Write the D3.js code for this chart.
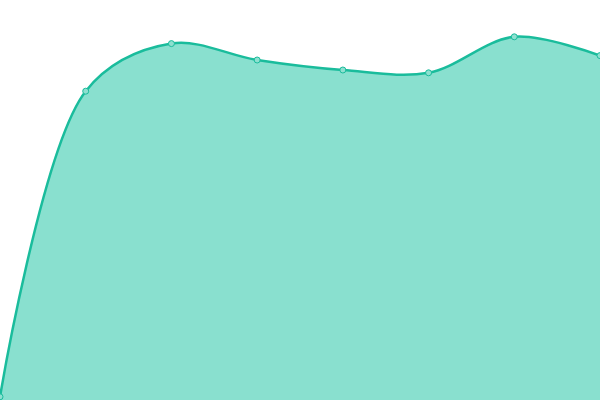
<!DOCTYPE html>
<html>
<head>
<meta charset="utf-8">
<script src="https://cdn.jsdelivr.net/npm/d3@7"></script>
<style>
  body { margin: 0; background: #fff; }
  svg { display: block; }
</style>
</head>
<body>
<div class="chart"></div>
<script>
var width = 600,
    height = 400;

var labels = ["1", "2", "3", "4", "5", "6", "7", "8"];
var values = [0.8, 77.2, 89.1, 85.0, 82.5, 81.8, 90.8, 86.1];

var svg = d3.select("div.chart").append("svg")
    .attr("width", width)
    .attr("height", height);

var x = d3.scalePoint()
    .domain(labels)
    .range([0, width]);

var y = d3.scaleLinear()
    .domain([0, 100])
    .range([height, 0]);

var curve = d3.curveCatmullRom.alpha(0.5);

var area = d3.area()
    .x(function(d, i) { return x(labels[i]); })
    .y0(height)
    .y1(function(d) { return y(d); })
    .curve(curve);

var line = d3.line()
    .x(function(d, i) { return x(labels[i]); })
    .y(function(d) { return y(d); })
    .curve(curve);

svg.append("path")
    .datum(values)
    .attr("fill", "#89e0cf")
    .attr("d", area);

svg.append("path")
    .datum(values)
    .attr("fill", "none")
    .attr("stroke", "#1abc9c")
    .attr("stroke-width", 2.5)
    .attr("d", line);

svg.selectAll("circle.dot")
    .data(values)
    .enter().append("circle")
    .attr("class", "dot")
    .attr("cx", function(d, i) { return x(labels[i]); })
    .attr("cy", function(d) { return y(d); })
    .attr("r", 3)
    .attr("fill", "#8ee0d0")
    .attr("stroke", "#1abc9c")
    .attr("stroke-width", 1);
</script>
</body>
</html>
